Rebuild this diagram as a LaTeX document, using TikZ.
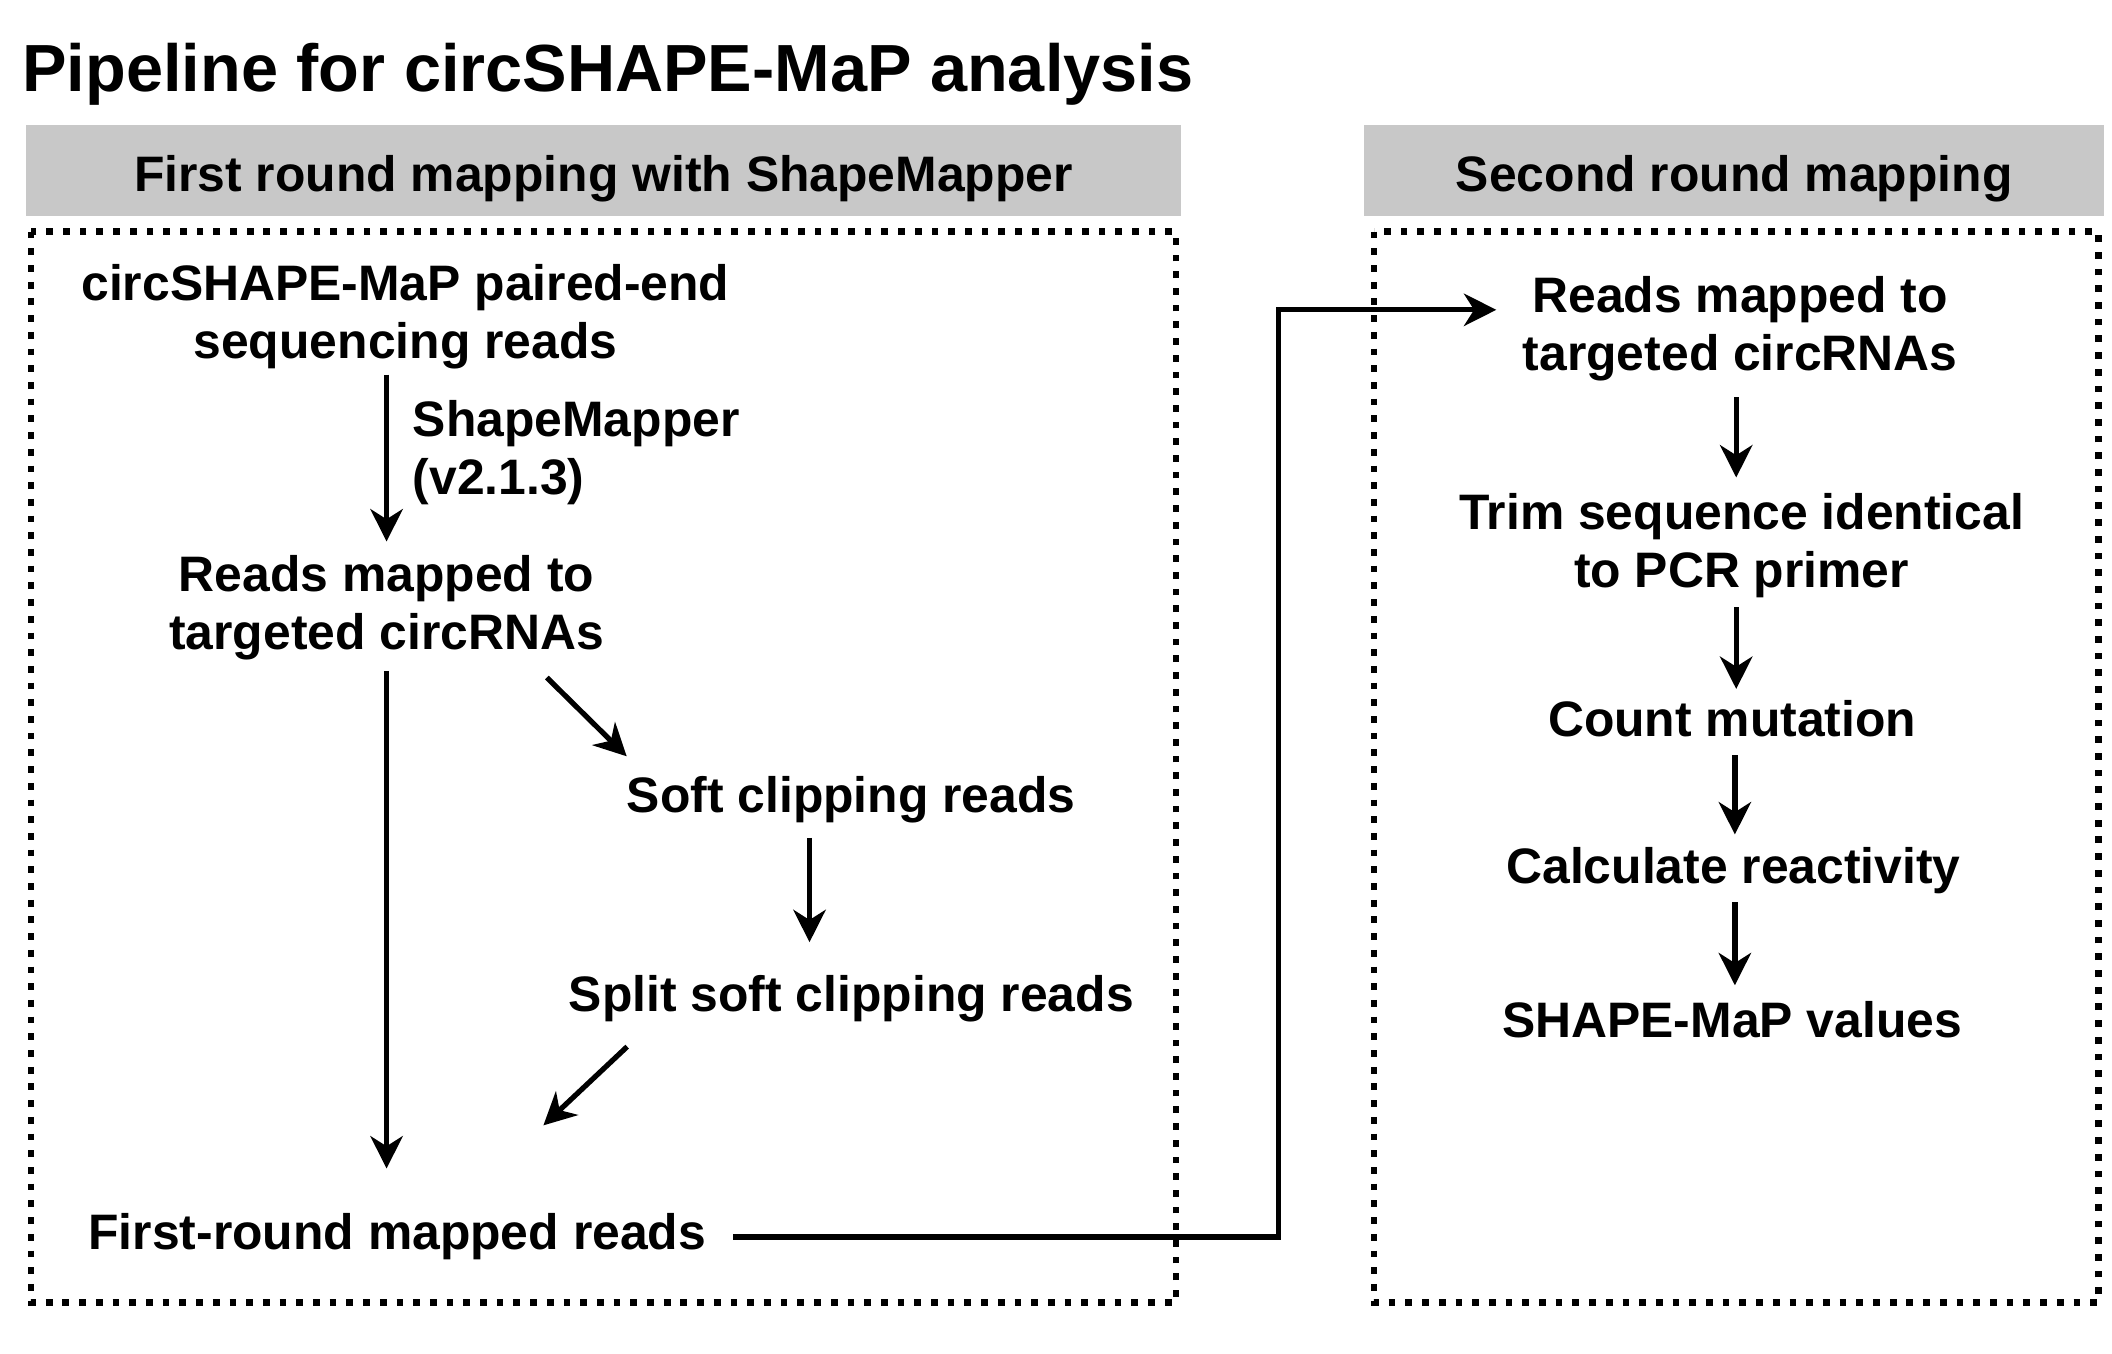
\documentclass[tikz,border=0pt]{standalone}
\usepackage{fontspec}
\setmainfont{Liberation Sans}
\usetikzlibrary{arrows.meta,calc}
\definecolor{hdrgray}{RGB}{200,200,200}
\begin{document}
\begin{tikzpicture}[x=1pt,y=-1pt,
  txt/.style={font=\fontsize{37}{43}\selectfont\bfseries, inner sep=0pt, align=center, anchor=base},
  ltxt/.style={font=\fontsize{37}{43}\selectfont\bfseries, inner sep=0pt, align=left, anchor=base west},
  arr/.style={line width=3.9pt, -{Stealth[length=24pt,width=24pt,inset=7.5pt]}},
  dotbox/.style={line width=5pt, dash pattern=on 5pt off 7.4pt},
  hdr/.style={fill=hdrgray, inner sep=0pt, text height=31pt, text depth=0pt, minimum height=67pt,
    font=\fontsize{37}{43}\selectfont\bfseries, anchor=center}
]
\useasboundingbox (0,0) rectangle (1568,1005);

% title
\node[font=\fontsize{49.5}{56}\selectfont\bfseries, inner sep=0pt, anchor=base west] (title) at (16.5,68) {Pipeline for circSHAPE-MaP analysis};

% headers
\node[hdr, minimum width=858pt] (h1) at (448,126.5) {First round mapping with ShapeMapper};
\node[hdr, minimum width=549pt] (h2) at (1287.5,126.5) {Second round mapping};

% dotted boxes
\draw[dotbox] (23,172) rectangle (873,967);
\draw[dotbox] (1020,172) rectangle (1558,967);

% left column (base = baseline of last line)
\node[txt] (src) at (301,266) {circSHAPE-MaP paired-end\\sequencing reads};
\node[ltxt] (smap) at (306.3,367) {ShapeMapper\\(v2.1.3)};
\node[txt] (rm1) at (287,482) {Reads mapped to\\targeted circRNAs};
\node[txt] (soft) at (632,603) {Soft clipping reads};
\node[txt] (split) at (632,751) {Split soft clipping reads};
\node[ltxt] (first) at (65.5,928) {First-round mapped reads};

% right column
\node[txt] (rm2) at (1292,275) {Reads mapped to\\targeted circRNAs};
\node[txt] (trim) at (1293,436) {Trim sequence identical\\to PCR primer};
\node[txt] (count) at (1286,547) {Count mutation};
\node[txt] (calc) at (1287,656) {Calculate reactivity};
\node[txt] (vals) at (1286,770) {SHAPE-MaP values};

% left connectors
\draw[arr] ($(rm1.north |- src.south)+(0,4)$) -- ($(rm1.north)+(0,-10)$);
\draw[arr] ($(rm1.south)+(0,8)$) -- ($(rm1.south |- first.north)+(0,-33.5)$);
\draw[arr] ($(rm1.south)+(119,13)$) -- ($(soft.north west)+(0,-14.5)$);
\draw[arr] ($(soft.south)+(-31,11)$) -- ($(soft.south |- split.north)+(-31,-24.5)$);
\draw[arr] ($(split.south west)+(43.5,18)$) -- ($(first.north)+(108.5,-65.5)$);
\draw[arr] ($(first.east)+(20,0)$) -- ++(405,0) |- ($(rm2.west)+(-19.5,-14)$);

% right connectors
\draw[arr] ($(rm2.south)+(-3,12)$) -- ($(rm2.south |- trim.north)+(-3,-11.5)$);
\draw[arr] ($(trim.south)+(-4,7)$) -- ($(trim.south |- count.north)+(-4,-8.5)$);
\draw[arr] ($(count.south)+(2,13)$) -- ($(count.south |- calc.north)+(2,-9.5)$);
\draw[arr] ($(calc.south)+(1,6)$) -- ($(calc.south |- vals.north)+(1,-11.5)$);
\end{tikzpicture}
\end{document}
